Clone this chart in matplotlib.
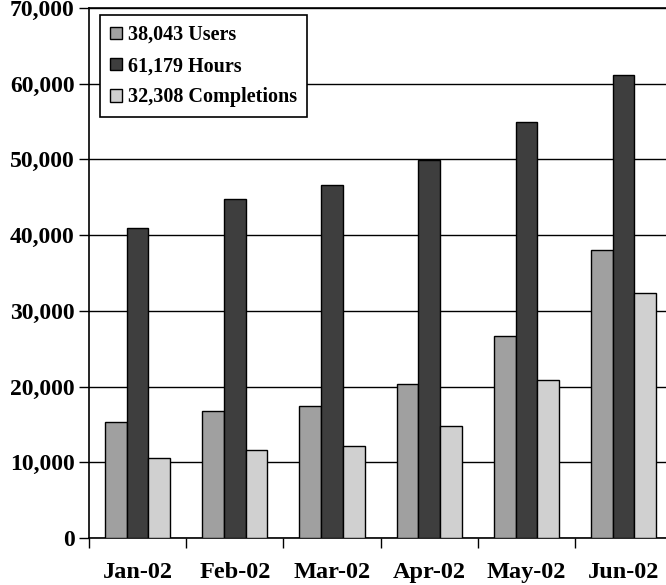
import numpy as np
import matplotlib
matplotlib.use("Agg")
import matplotlib.pyplot as plt
from matplotlib.ticker import FuncFormatter, MultipleLocator

# data
months = ["Jan-02", "Feb-02", "Mar-02", "Apr-02", "May-02", "Jun-02"]
users = [15300, 16750, 17400, 20370, 26650, 38043]
hours = [40900, 44800, 46600, 49920, 54890, 61179]
completions = [10550, 11660, 12190, 14780, 20830, 32308]

labels = ["38,043 Users", "61,179 Hours", "32,308 Completions"]
colors = ["#a0a0a0", "#3e3e3e", "#d0d0d0"]

plt.rcParams["font.family"] = ["Liberation Serif", "DejaVu Serif"]
plt.rcParams["font.weight"] = "bold"

fig = plt.figure(figsize=(6.66, 5.85), dpi=100)
ax = fig.add_axes([89 / 666, 47 / 585, 583.2 / 666, 530 / 585])

x = np.arange(len(months))
w = 0.223
for i, (vals, lab, col) in enumerate(zip([users, hours, completions], labels, colors)):
    ax.bar(x + (i - 1) * w, vals, width=w, color=col, edgecolor="black",
           linewidth=1, label=lab, zorder=3)

ax.set_xlim(-0.5, len(months) - 0.5)
ax.set_ylim(0, 70000)
ax.yaxis.set_major_locator(MultipleLocator(10000))
ax.yaxis.set_major_formatter(FuncFormatter(lambda v, p: f"{int(v):,}"))
ax.grid(axis="y", color="black", linewidth=1, zorder=0)

ax.set_xticks(x)
ax.set_xticklabels(months)
ax.set_xticks(np.arange(len(months) + 1) - 0.5, minor=True)
ax.tick_params(axis="x", which="major", length=0, pad=17, labelsize=17.5)
ax.tick_params(axis="x", which="minor", length=7, width=1, direction="out")
ax.tick_params(axis="y", length=7, width=1, direction="out", pad=3.5, labelsize=17)

for s in ["left", "bottom", "top"]:
    ax.spines[s].set_linewidth(1.2)
    ax.spines[s].set_color("black")
ax.spines["right"].set_visible(False)

leg = ax.legend(loc="upper left", bbox_to_anchor=(11 / 583.2, 1 - 7 / 530),
                prop={"family": "Liberation Serif", "weight": "bold", "size": 14.5},
                frameon=True, fancybox=False, framealpha=1, edgecolor="black",
                handlelength=0.6, handleheight=0.6, handletextpad=0.3,
                labelspacing=0.55, borderpad=0.5, borderaxespad=0)
leg.get_frame().set_linewidth(1.2)
leg.set_zorder(5)

fig.savefig("out.png", dpi=100)
